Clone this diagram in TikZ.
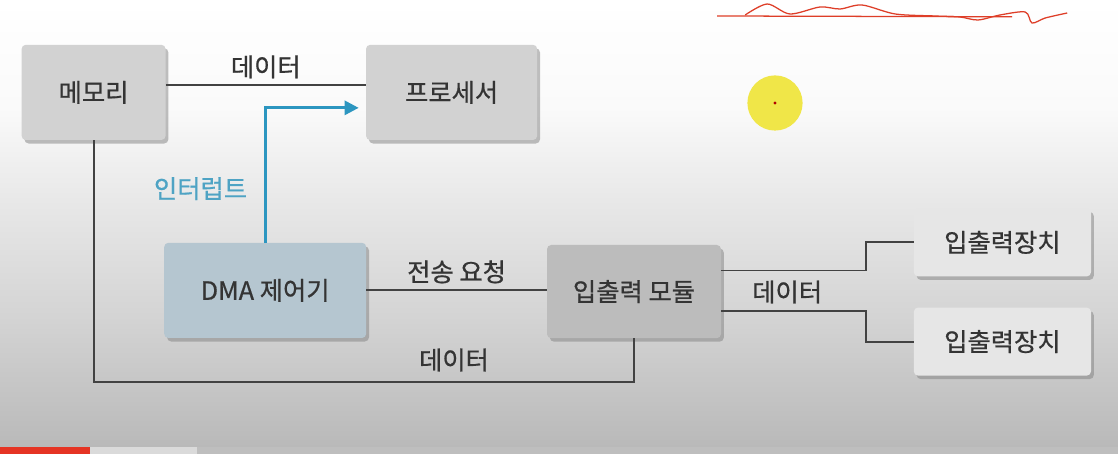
\documentclass[tikz,border=0pt]{standalone}
\usepackage{fontspec}
\setmainfont{Noto Sans CJK KR}
\newfontfamily\kfont{Noto Sans CJK KR}[FakeBold=0.7]
\usetikzlibrary{positioning,shadows,arrows.meta,calc}
\definecolor{BoxGray}{RGB}{210,210,210}
\definecolor{ModGray}{RGB}{188,188,188}
\definecolor{DevGray}{RGB}{230,230,230}
\definecolor{DmaBlue}{RGB}{181,198,208}
\definecolor{TextGray}{RGB}{52,52,52}
\definecolor{LineGray}{RGB}{66,66,66}
\definecolor{IntBlue}{RGB}{44,150,192}
\definecolor{IntText}{RGB}{78,163,196}
\definecolor{BarRed}{RGB}{229,52,36}
\definecolor{BarLight}{RGB}{218,218,218}
\definecolor{BarGray}{RGB}{190,190,190}
\definecolor{CursorYellow}{RGB}{240,230,72}
\definecolor{ScribbleRed}{RGB}{222,62,40}
\pgfdeclareverticalshading{bgshade}{100bp}{
  color(0bp)=(black!28); color(25bp)=(black!28); color(40bp)=(black!17);
  color(53bp)=(black!9); color(63bp)=(black!2); color(75bp)=(white); color(100bp)=(white)}
\tikzset{
  gbox/.style={fill=BoxGray,rounded corners=3pt,text=TextGray,
               font=\kfont\fontsize{18}{21}\selectfont,
               drop shadow={shadow xshift=2pt,shadow yshift=-2.5pt,opacity=.5}},
  modbox/.style={gbox,fill=ModGray},
  devbox/.style={gbox,fill=DevGray,minimum width=4.43cm,minimum height=1.7cm},
  dmabox/.style={gbox,fill=DmaBlue},
  wire/.style={LineGray,line width=1.4pt},
  intarr/.style={-{Triangle[length=10pt,width=10pt]},IntBlue,line width=2pt},
  lbl/.style={text=TextGray,font=\kfont\fontsize{18}{21}\selectfont},
  intlbl/.style={text=IntText,font=\kfont\fontsize{18}{21}\selectfont},
}
\begin{document}
\begin{tikzpicture}
  \useasboundingbox (0,0) rectangle (27.95,11.35);
  % background and video bar
  \shade[shading=bgshade] (0,0) rectangle (27.95,11.35);
  \fill[BarRed] (0,0) rectangle (2.25,0.17);
  \fill[BarLight] (2.25,0) rectangle (4.93,0.17);
  \fill[BarGray] (4.93,0) rectangle (27.95,0.17);

  \node[gbox,minimum width=3.6cm,minimum height=2.38cm] (mem) at (2.34,9.04) {메모리};
  \node[gbox,minimum width=4.28cm,minimum height=2.38cm] (proc) at (11.29,9.04) {프로세서};
  \node[dmabox,minimum width=5.05cm,minimum height=2.38cm] (dma) at (6.63,4.09) {DMA 제어기};
  \node[modbox,minimum width=4.35cm,minimum height=2.33cm] (mod) at (15.85,4.06) {입출력 모듈};
  \node[devbox] (dev1) at (25.06,5.29) {입출력장치};
  \node[devbox] (dev2) at (25.06,2.81) {입출력장치};

  \draw[wire] ([yshift=5pt]mem.east) -- ([yshift=5pt]proc.west) node[lbl,midway,above=1pt] {데이터};
  \draw[intarr] (dma.north) |- ([xshift=-5pt,yshift=-11pt]proc.west) node[intlbl,pos=0.2,left=0.3cm] {인터럽트};
  \draw[wire] (dma.east) -- (dma.east -| mod.west) node[lbl,midway,above=1pt] {전송 요청};
  \coordinate (bus) at (mod.south |- 0,1.8);
  \draw[wire] (mem.south) |- (bus) -- (mod.south);
  \node[lbl] (dlbl) at (11.35,2.35) {데이터};
  \draw[wire] ([yshift=15pt]mod.east) -| ([xshift=-1.2cm]dev1.west) -- (dev1.west);
  \draw[wire] ([yshift=-14pt]mod.east) -| ([xshift=-1.2cm]dev2.west) -- (dev2.west);
  \node[lbl] (iolbl) at (19.68,4.05) {데이터};

  % pointer and pen marks
  \fill[CursorYellow] (19.375,8.775) circle (0.69);
  \fill[red!70!black] (19.375,8.775) circle (0.04);
  \draw[ScribbleRed,line width=0.9pt] (17.93,10.95) -- (25.3,10.93);
  \draw[ScribbleRed,line width=0.9pt] plot[smooth] coordinates {(18.63,10.975) (19.18,11.25) (19.75,11.0) (20.5,11.175) (21.0,11.125) (21.55,11.225) (22.38,11.0) (23.38,10.95) (24.0,10.925) (24.45,10.85) (25.0,10.975) (25.63,11.05) (25.8,10.775) (26.13,10.9) (26.68,11.025)};
\end{tikzpicture}
\end{document}
